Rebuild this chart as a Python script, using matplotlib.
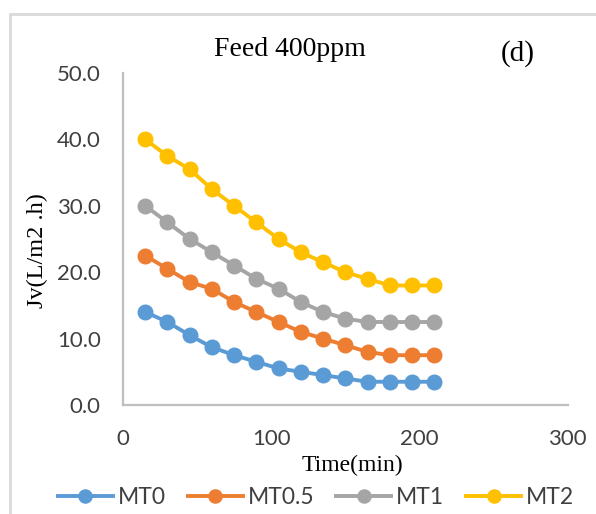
import matplotlib
matplotlib.use("Agg")
import matplotlib.pyplot as plt
from matplotlib.patches import Rectangle

time_min = [15, 30, 45, 60, 75, 90, 105, 120, 135, 150, 165, 180, 195, 210]
mt0 = [14.0, 12.5, 10.5, 8.7, 7.5, 6.5, 5.5, 5.0, 4.5, 4.0, 3.5, 3.5, 3.5, 3.5]
mt05 = [22.5, 20.5, 18.5, 17.5, 15.5, 14.0, 12.5, 11.0, 10.0, 9.0, 8.0, 7.5, 7.5, 7.5]
mt1 = [30.0, 27.5, 25.0, 23.0, 21.0, 19.0, 17.5, 15.5, 14.0, 13.0, 12.5, 12.5, 12.5, 12.5]
mt2 = [40.0, 37.5, 35.5, 32.5, 30.0, 27.5, 25.0, 23.0, 21.5, 20.0, 19.0, 18.0, 18.0, 18.0]
series_names = ["MT0", "MT0.5", "MT1", "MT2"]
series_colors = ["#5B9BD5", "#ED7D31", "#A5A5A5", "#FFC000"]
x_ticks = [0, 100, 200, 300]
y_ticks = [0, 10, 20, 30, 40, 50]

W, H = 596, 514
fig = plt.figure(figsize=(W / 100, H / 100), dpi=100)

# outer border of the chart area
fig.patches.append(Rectangle((10 / W, -0.1), 1.2, (H - 14) / H + 0.1,
                             transform=fig.transFigure, fill=False,
                             edgecolor="#d9d9d9", linewidth=2.0))

ax = fig.add_axes([123 / W, (H - 405) / H, (567.7 - 123) / W, (405 - 73) / H])

for ys, name, col in zip([mt0, mt05, mt1, mt2], series_names, series_colors):
    ax.plot(time_min, ys, color=col, linewidth=2.8, marker="o",
            markersize=10.5, label=name, clip_on=False)

ax.set_xlim(0, 300)
ax.set_ylim(0, 50)
ax.set_xticks(x_ticks)
ax.set_yticks(y_ticks)
ax.set_yticklabels([f"{v:.1f}" for v in y_ticks])
ax.tick_params(length=0, labelsize=16, colors="#404040")
ax.tick_params(axis="y", pad=16)
ax.tick_params(axis="x", pad=17)
for lab in ax.get_xticklabels() + ax.get_yticklabels():
    lab.set_fontfamily("Lato")
for s in ["top", "right"]:
    ax.spines[s].set_visible(False)
for s in ["left", "bottom"]:
    ax.spines[s].set_color("#bfbfbf")
    ax.spines[s].set_linewidth(1.6)

fig.text(290 / W, 1 - 50 / H, "Feed 400ppm", family="Liberation Serif",
         fontsize=20, ha="center", va="center", color="#000000")
fig.text(518 / W, 1 - 54 / H, "(d)", family="Liberation Serif",
         fontsize=21, ha="center", va="center", color="#000000")
fig.text(352 / W, 1 - 465 / H, "Time(min)", family="Liberation Serif",
         fontsize=17, ha="center", va="center", color="#000000")
fig.text(37 / W, 1 - 251 / H, "Jv(L/m2 .h)", family="Liberation Serif",
         fontsize=17.5, ha="center", va="center", rotation=90, color="#000000")

leg = fig.legend(loc="center", bbox_to_anchor=(316 / W, 1 - 498 / H),
                 ncol=4, frameon=False, prop={"family": "Lato", "size": 16.5},
                 handlelength=2.4, handletextpad=0.22, columnspacing=0.95,
                 markerscale=0.9, borderpad=0)
for t in leg.get_texts():
    t.set_color("#404040")

fig.savefig("out.png", dpi=100)
